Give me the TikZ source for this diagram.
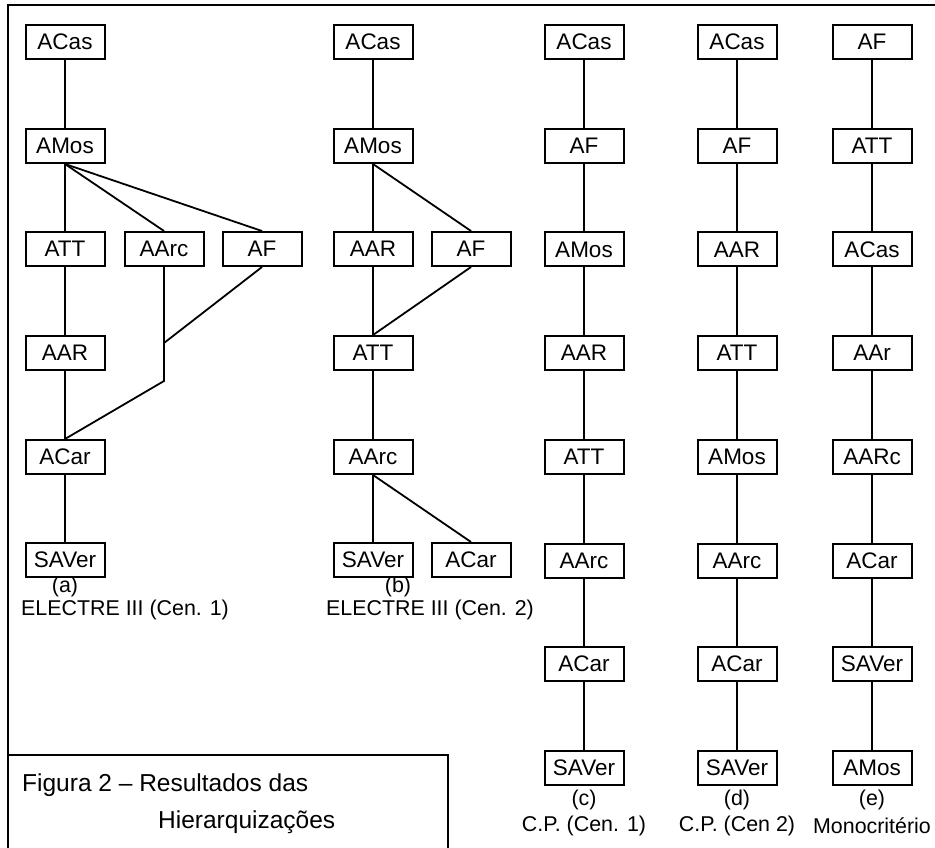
\documentclass[tikz,border=0pt]{standalone}
\usepackage{fontspec}
\setmainfont{Liberation Sans}
\begin{document}
\begin{tikzpicture}[x=1pt,y=-1pt,
  box/.style={draw,line width=2pt,minimum width=79pt,minimum height=34pt,inner sep=0pt,font=\fontsize{22.5}{25}\selectfont},
  lbl/.style={inner sep=0pt,font=\fontsize{21.4}{24}\selectfont},
  caplbl/.style={inner sep=0pt,font=\fontsize{24.5}{28}\selectfont},
  conn/.style={line width=1.8pt},
  frame/.style={line width=2.2pt}]
\useasboundingbox (0,0) rectangle (935,848);
\draw[frame] (8,848) -- (8,5) -- (935,5);
\draw[frame] (8,755) -- (448,755) -- (448,848);
% column (a)
\node[box] (aACas) at (65,42) {ACas};
\node[box] (aAMos) at (65,146) {AMos};
\node[box] (aATT) at (65,249) {ATT};
\node[box] (aAArc) at (164,249) {AArc};
\node[box] (aAF) at (262,249) {AF};
\node[box] (aAAR) at (65,353) {AAR};
\node[box] (aACar) at (65,457) {ACar};
\node[box] (aSAVer) at (65,560) {SAVer};
\coordinate (aBend) at (164,381);
\coordinate (aJoin) at (164,343);
\draw[conn] (aACas.south) -- (aAMos.north);
\draw[conn] (aAMos.south) -- (aATT.north);
\draw[conn] (aAMos.south) -- (aAArc.north);
\draw[conn] (aAMos.south) -- (aAF.north);
\draw[conn] (aATT.south) -- (aAAR.north);
\draw[conn] (aAAR.south) -- (aACar.north);
\draw[conn] (aAArc.south) -- (aBend) -- (aACar.north);
\draw[conn] (aAF.south) -- (aJoin);
\draw[conn] (aACar.south) -- (aSAVer.north);
\node[lbl] (aL1) at (65,587) {(a)};
\node[lbl] (aL2) at (125,610) {ELECTRE III (Cen. 1)};
% column (b)
\node[box] (bACas) at (373,42) {ACas};
\node[box] (bAMos) at (373,146) {AMos};
\node[box] (bAAR) at (373,249) {AAR};
\node[box] (bAF) at (471,249) {AF};
\node[box] (bATT) at (373,353) {ATT};
\node[box] (bAArc) at (373,457) {AArc};
\node[box] (bSAVer) at (373,560) {SAVer};
\node[box] (bACar) at (471,560) {ACar};
\draw[conn] (bACas.south) -- (bAMos.north);
\draw[conn] (bAMos.south) -- (bAAR.north);
\draw[conn] (bAMos.south) -- (bAF.north);
\draw[conn] (bAAR.south) -- (bATT.north);
\draw[conn] (bAF.south) -- (bATT.north);
\draw[conn] (bATT.south) -- (bAArc.north);
\draw[conn] (bAArc.south) -- (bSAVer.north);
\draw[conn] (bAArc.south) -- (bACar.north);
\node[lbl] (bL1) at (398,587) {(b)};
\node[lbl] (bL2) at (430,610) {ELECTRE III (Cen. 2)};
% columns (c), (d), (e)
\foreach \lab [count=\i] in {ACas,AF,AMos,AAR,ATT,AArc,ACar,SAVer}
  \node[box] (c\i) at (584,{42+(\i-1)*103.7}) {\lab};
\foreach \lab [count=\i] in {ACas,AF,AAR,ATT,AMos,AArc,ACar,SAVer}
  \node[box] (d\i) at (737,{42+(\i-1)*103.7}) {\lab};
\foreach \lab [count=\i] in {AF,ATT,ACas,AAr,AARc,ACar,SAVer,AMos}
  \node[box] (e\i) at (872,{42+(\i-1)*103.7}) {\lab};
\foreach \col in {c,d,e}{
  \foreach \p/\q in {1/2,2/3,3/4,4/5,5/6,6/7,7/8}{
    \draw[conn] (\col\p.south) -- (\col\q.north);
  }
}
\node[lbl] (cL1) at (584,800) {(c)};
\node[lbl] (cL2) at (584,826) {C.P. (Cen. 1)};
\node[lbl] (dL1) at (737,800) {(d)};
\node[lbl] (dL2) at (737,826) {C.P. (Cen 2)};
\node[lbl] (eL1) at (872,800) {(e)};
\node[lbl] (eL2) at (872,826) {Monocritério};
% caption
\node[caplbl,anchor=west] (cap1) at (22,785) {Figura 2 – Resultados das};
\node[caplbl,anchor=west] (cap2) at (158,822) {Hierarquizações};
\end{tikzpicture}
\end{document}
